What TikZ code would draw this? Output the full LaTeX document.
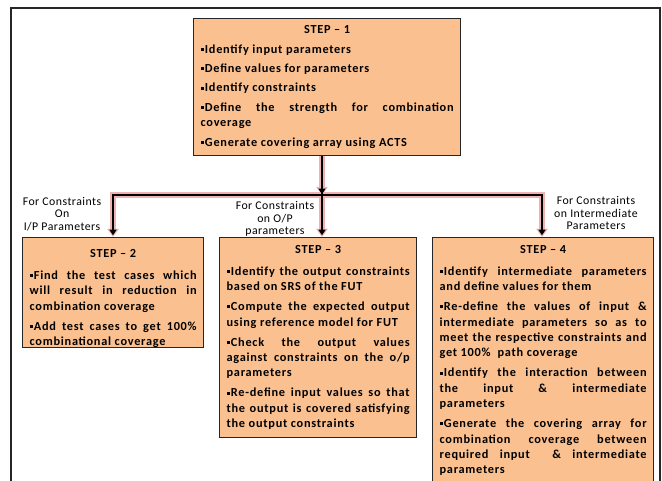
\documentclass[tikz,border=0pt]{standalone}
\usepackage{fontspec}
\setmainfont{Carlito}[LetterSpace=6]
\newfontfamily\labelfont{Carlito}[LetterSpace=4]
\usetikzlibrary{arrows.meta}

\definecolor{peach}{RGB}{250,192,144}
\definecolor{glow}{RGB}{238,178,178}

% small square bullet
\newcommand\bul{\rule[2.4pt]{3pt}{3pt}\hspace{1.3pt}}

% gaps: between bullet paragraphs, below the title, above the title
\newlength\itemgap \setlength\itemgap{4.6pt}
\newlength\titlegap \setlength\titlegap{2pt}
\newlength\toppad \setlength\toppad{3pt}

% content of a step box: width, height, title, bullets
\newcommand\stepbody[4]{%
  \parbox[c][#2][t]{#1}{%
    \fontsize{12.3}{15.4}\selectfont\bfseries
    \setlength\parindent{0pt}\setlength\parskip{\itemgap}%
    \hyphenpenalty=10000 \exhyphenpenalty=10000 \tolerance=10000
    \vspace*{\toppad}%
    {\centering #3\par}\vspace{\titlegap}%
    \leftskip=7pt \rightskip=7pt
    #4\par}}

\tikzset{
  stepbox/.style={draw=black!85, line width=1.3pt, fill=peach,
    inner sep=0pt, anchor=north west},
  lbl/.style={align=center, inner sep=0pt,
    font=\labelfont\fontsize{11.8}{12.4}\selectfont},
  halo/.style={draw=glow, line width=5.4pt},
  core/.style={draw=black, line width=2.1pt},
  halotip/.style={-{Triangle[width=11pt,length=8pt]}},
  coretip/.style={shorten >=1.8pt, -{Triangle[width=7pt,length=5.5pt]}},
}

\begin{document}
\begin{tikzpicture}[x=1pt,y=-1pt]
\clip (0,0) rectangle (662,481);
\fill[white] (0,0) rectangle (662,481);

% outer frame, open at the bottom
\draw[line width=1.2pt, black!85] (11,490) -- (11,8) -- (660,8) -- (660,490);

% step boxes
\begingroup
\setlength\itemgap{4pt}\setlength\titlegap{0pt}
\node[stepbox] (s1) at (193,18) {\stepbody{267pt}{137pt}{STEP -- 1}{%
  \bul Identify input parameters\par
  \bul Define values for parameters\par
  \bul Identify constraints\par
  \bul Define the strength for combination\linebreak coverage\par
  \bul Generate covering array using ACTS}};
\endgroup

\begingroup
\setlength\toppad{7pt}
\node[stepbox] (s2) at (22,237) {\stepbody{181pt}{110pt}{STEP -- 2}{%
  \bul Find the test cases which\linebreak will result in reduction in\linebreak combination coverage\par
  \bul Add test cases to get 100\%\linebreak combinational coverage}};
\endgroup

\node[stepbox] (s3) at (219,237) {\stepbody{197pt}{200pt}{STEP -- 3}{%
  \bul Identify the output constraints\linebreak based on SRS of the FUT\par
  \bul Compute the expected output\linebreak using reference model for FUT\par
  \bul Check the output values\linebreak against constraints on the o/p\linebreak parameters\par
  \bul Re-define input values so that\linebreak the output is covered satisfying\linebreak the output constraints}};

\node[stepbox] (s4) at (432,237) {\stepbody{221pt}{270pt}{STEP -- 4}{%
  \bul Identify intermediate parameters\linebreak and define values for them\par
  \bul Re-define the values of input \&\linebreak intermediate parameters so as to\linebreak meet the respective constraints and\linebreak get 100\%\ \ path coverage\par
  \bul Identify the interaction between\linebreak the input \& intermediate\linebreak parameters\par
  \bul Generate the covering array for\linebreak combination coverage between\linebreak required input\ \ \& intermediate\linebreak parameters}};

% junction points on the distribution bar
\coordinate (jc) at (322,195);
\coordinate (jl) at (113,195);
\coordinate (jr) at (542,195);

% labels of the branches
\node[lbl] (l2) at (62,214) {For Constraints\\On\\I/P Parameters};
\node[lbl] (l3) at (275,219) {For Constraints\\on O/P\\parameters};
\node[lbl] (l4) at (596,213) {For Constraints\\on Intermediate\\Parameters};

% connectors: light halo first, black core on top
\draw[halo, halotip] (s1.south -| jc) -- (jc);
\draw[halo, line cap=rect] (jl) -- (jr);
\draw[halo, halotip] (jl) -- (s2.north -| jl);
\draw[halo, halotip] ([yshift=3pt]jc) -- (s3.north -| jc);
\draw[halo, halotip] (jr) -- (s4.north -| jr);

\draw[core, coretip] (s1.south -| jc) -- ([yshift=-1pt]jc);
\draw[core, line width=1.6pt] ([xshift=-1pt]jl) -- ([xshift=1pt]jr);
\draw[core, coretip] ([yshift=-0.8pt]jl) -- (s2.north -| jl);
\draw[core, coretip] ([yshift=4pt]jc) -- (s3.north -| jc);
\draw[core, coretip] ([yshift=-0.8pt]jr) -- (s4.north -| jr);
\end{tikzpicture}
\end{document}
